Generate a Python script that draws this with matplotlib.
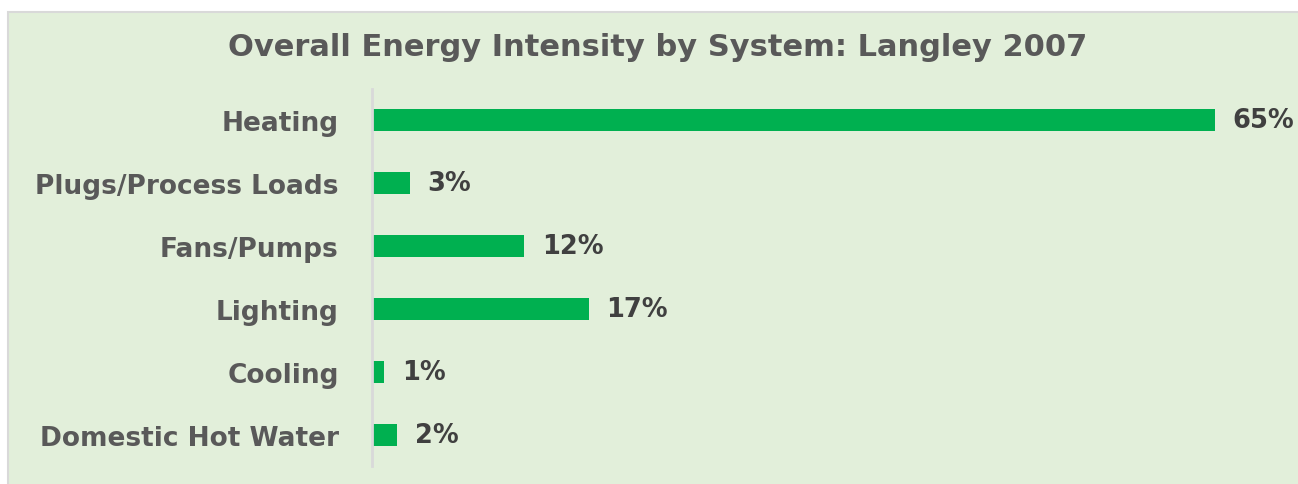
import matplotlib.pyplot as plt
from matplotlib.patches import Rectangle

# values (percent of total energy use)
systems = ['Heating', 'Plugs/Process Loads', 'Fans/Pumps', 'Lighting',
           'Cooling', 'Domestic Hot Water']
shares = [65.0, 2.9, 11.7, 16.7, 0.9, 1.9]
title = 'Overall Energy Intensity by System: Langley 2007'

# the reference text is wide, DejaVu Sans Bold gets closest in width
plt.rcParams['font.family'] = ['DejaVu Sans']

fig = plt.figure(figsize=(12.98, 4.85), dpi=100)
fig.patch.set_facecolor('white')

# green panel with grey border, starts a little in from the top-left corner
fig.patches.append(Rectangle((8 / 1298, -0.05), 1.1, 1 - 13 / 485 + 0.05,
                             transform=fig.transFigure, facecolor='#E2EFDA',
                             edgecolor='#D9D9D9', linewidth=1.5, zorder=-5))

ax = fig.add_axes([372 / 1298, 18 / 485, 918 / 1298, 377 / 485])
ax.set_facecolor('none')
ax.set_zorder(2)

pos = range(len(systems))
bars = ax.barh(pos, shares, height=0.35, color='#00B050')
ax.set_ylim(len(systems) - 0.5, -0.5)
ax.set_xlim(0, 70.8)

for b, v in zip(bars, shares):
    ax.annotate('{:.0f}%'.format(v), (b.get_width(), b.get_y() + b.get_height() / 2),
                xytext=(13, 0), textcoords='offset points', va='center', ha='left',
                fontsize=18.5, fontweight='bold', color='#404040')

ax.set_yticks(list(pos))
ax.set_yticklabels(systems, fontsize=19, fontweight='bold', color='#595959')
ax.tick_params(axis='y', length=0, pad=24)
ax.set_xticks([])
for s in ['top', 'right', 'bottom']:
    ax.spines[s].set_visible(False)
ax.spines['left'].set_color('#D9D9D9')
ax.spines['left'].set_linewidth(2)

fig.text(658 / 1298, 1 - 47 / 485, title, ha='center', va='center',
         fontsize=22, fontweight='bold', color='#595959')

fig.savefig('out.png', dpi=100)
